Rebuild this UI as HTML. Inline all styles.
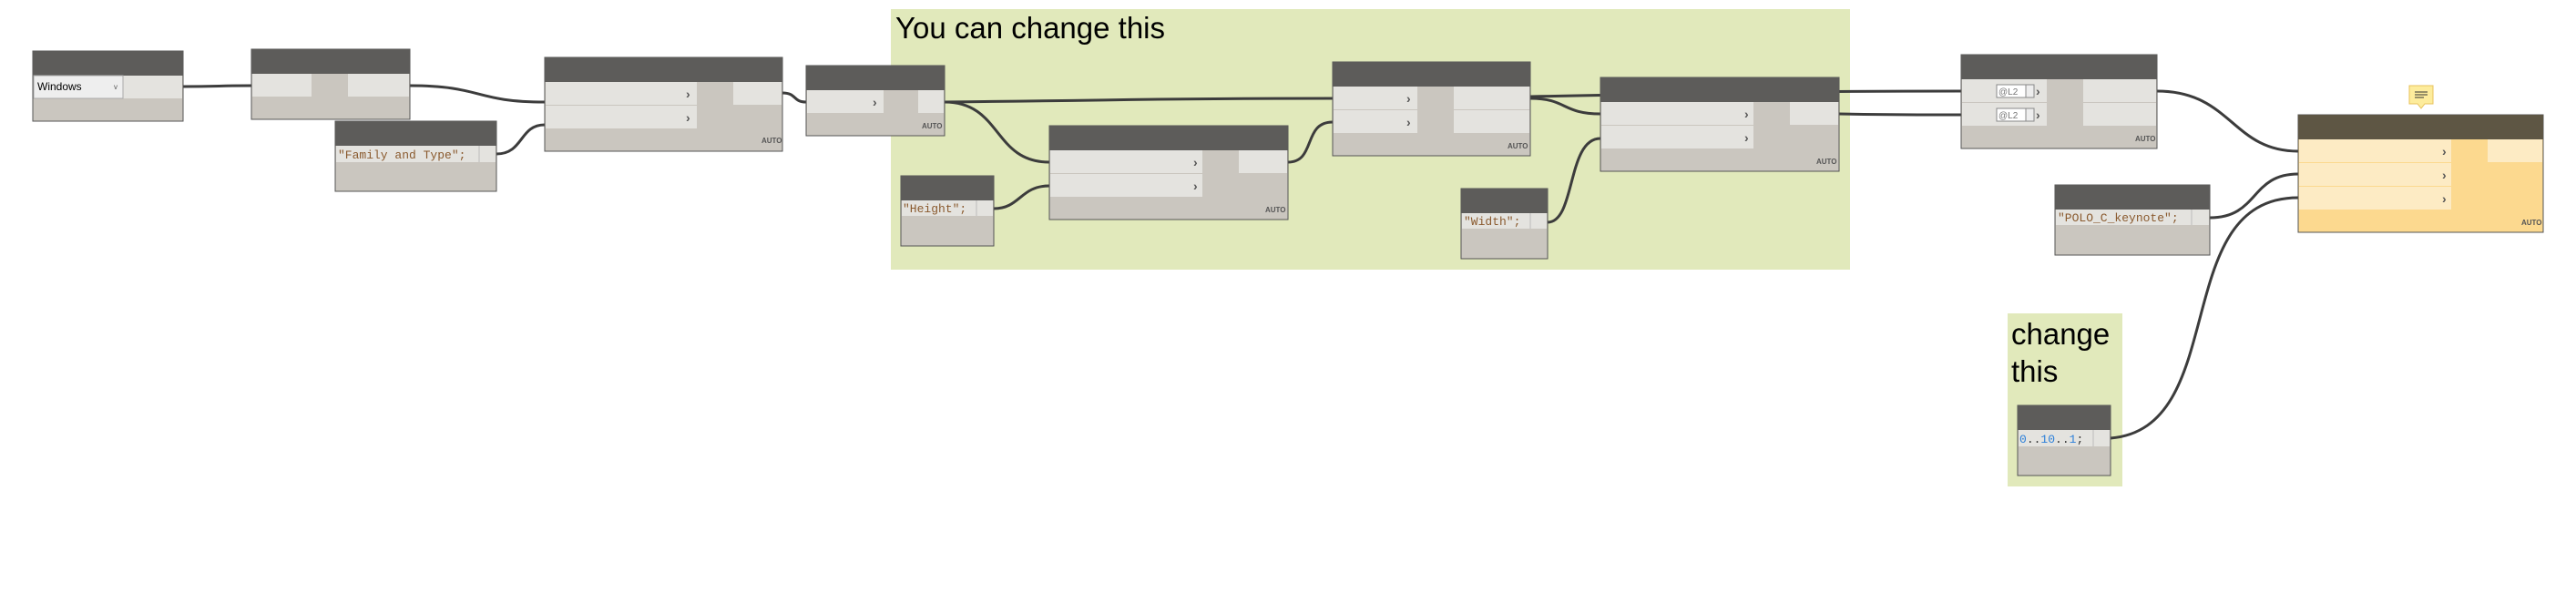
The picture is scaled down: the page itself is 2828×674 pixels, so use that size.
<!DOCTYPE html>
<html><head><meta charset="utf-8"><style>
html,body{margin:0;padding:0;background:#fff;}
svg{display:block;}
text{font-family:"Liberation Sans",sans-serif;}
.m{font-family:"Liberation Mono",monospace;font-size:13px;fill:#8a5a2e;}
.auto{font-size:8px;font-weight:bold;fill:#555;}
.ch{font-size:14px;fill:#555;font-weight:bold;}
</style></head><body>
<svg width="2828" height="674" viewBox="0 0 2828 674" xmlns="http://www.w3.org/2000/svg">
<!-- groups -->
<rect x="978" y="10" width="1053" height="286" fill="#e1e9bb"/>
<text x="983" y="42" font-size="33" fill="#000">You can change this</text>
<rect x="2204" y="344" width="126" height="190" fill="#e1e9bb"/>
<text x="2208" y="378" font-size="33" fill="#000">change</text>
<text x="2208" y="419" font-size="33" fill="#000">this</text>

<!-- wires -->
<g fill="none" stroke="#3c3c3c" stroke-width="3">
<path d="M201,95 C240,95 240,94 276,94"/>
<path d="M450,94 C530,94 520,112 598,112"/>
<path d="M545,169 C575,169 570,137 598,137"/>
<path d="M859,102 C875,102 870,112 885,112"/>
<path d="M1037,112 C1250,110 1250,108 1463,108"/>
<path d="M1037,112 C1100,112 1090,178 1152,178"/>
<path d="M1091,229 C1120,229 1120,204 1152,204"/>
<path d="M1414,178 C1445,178 1430,134 1463,134"/>
<path d="M1680,108 C1720,108 1715,125 1757,125"/>
<path d="M1680,106 C1900,102 1950,100 2153,100"/>
<path d="M1699,244 C1730,244 1720,152 1757,152"/>
<path d="M2019,125 C2080,126 2100,126 2153,126"/>
<path d="M2368,100 C2450,100 2450,166 2523,166"/>
<path d="M2426,239 C2480,239 2470,191 2523,191"/>
<path d="M2317,481 C2450,470 2380,217 2523,217"/>
</g>

<!-- Node A Windows -->
<rect x="36" y="56" width="165" height="77" fill="#cac6bf" stroke="#555" stroke-width="1"/>
<rect x="36" y="56" width="165" height="27" fill="#5d5c5a"/>
<rect x="37" y="83" width="163" height="25" fill="#e4e3df"/>
<rect x="37" y="83" width="98" height="25" fill="#eeeeee" stroke="#aaa"/>
<text x="41" y="99" font-size="12" fill="#000">Windows</text>
<text x="125" y="98" font-size="8" fill="#555">v</text>

<!-- Node B -->
<rect x="276" y="54" width="174" height="77" fill="#cac6bf" stroke="#555"/>
<rect x="276" y="54" width="174" height="27" fill="#5d5c5a"/>
<rect x="277" y="81" width="65" height="25" fill="#e4e3df"/>
<rect x="382" y="81" width="67" height="25" fill="#e4e3df"/>

<!-- Node C Family and Type -->
<rect x="368" y="133" width="177" height="77" fill="#cac6bf" stroke="#555"/>
<rect x="368" y="133" width="177" height="27" fill="#5d5c5a"/>
<rect x="369" y="160" width="175" height="18" fill="#e4e3df"/>
<line x1="526" y1="160" x2="526" y2="178" stroke="#bbb"/>
<text x="371" y="174" class="m">"Family and Type";</text>

<!-- Node D -->
<rect x="598" y="63" width="261" height="103" fill="#cac6bf" stroke="#555"/>
<rect x="598" y="63" width="261" height="27" fill="#5d5c5a"/>
<rect x="599" y="90" width="166" height="25" fill="#e4e3df"/>
<rect x="599" y="116" width="166" height="25" fill="#e4e3df"/>
<rect x="805" y="90" width="53" height="25" fill="#e4e3df"/>
<text x="753" y="108" class="ch">›</text><text x="753" y="134" class="ch">›</text>
<text x="836" y="157" class="auto">AUTO</text>

<!-- Node E -->
<rect x="885" y="72" width="152" height="77" fill="#cac6bf" stroke="#555"/>
<rect x="885" y="72" width="152" height="27" fill="#5d5c5a"/>
<rect x="886" y="99" width="84" height="25" fill="#e4e3df"/>
<rect x="1008" y="99" width="28" height="25" fill="#e4e3df"/>
<text x="958" y="117" class="ch">›</text>
<text x="1012" y="141" class="auto">AUTO</text>

<!-- Node F -->
<rect x="1152" y="138" width="262" height="103" fill="#cac6bf" stroke="#555"/>
<rect x="1152" y="138" width="262" height="27" fill="#5d5c5a"/>
<rect x="1153" y="165" width="167" height="25" fill="#e4e3df"/>
<rect x="1153" y="191" width="167" height="25" fill="#e4e3df"/>
<rect x="1360" y="165" width="53" height="25" fill="#e4e3df"/>
<text x="1310" y="183" class="ch">›</text><text x="1310" y="209" class="ch">›</text>
<text x="1389" y="233" class="auto">AUTO</text>

<!-- Node Height -->
<rect x="989" y="193" width="102" height="77" fill="#cac6bf" stroke="#555"/>
<rect x="989" y="193" width="102" height="27" fill="#5d5c5a"/>
<rect x="990" y="220" width="100" height="17" fill="#e4e3df"/>
<line x1="1072" y1="220" x2="1072" y2="237" stroke="#bbb"/>
<text x="991" y="233" class="m">"Height";</text>

<!-- Node G -->
<rect x="1463" y="68" width="217" height="103" fill="#cac6bf" stroke="#555"/>
<rect x="1463" y="68" width="217" height="27" fill="#5d5c5a"/>
<rect x="1464" y="95" width="92" height="25" fill="#e4e3df"/>
<rect x="1464" y="121" width="92" height="25" fill="#e4e3df"/>
<rect x="1596" y="95" width="83" height="25" fill="#e4e3df"/>
<rect x="1596" y="121" width="83" height="25" fill="#e4e3df"/>
<text x="1544" y="113" class="ch">›</text><text x="1544" y="139" class="ch">›</text>
<text x="1655" y="163" class="auto">AUTO</text>

<!-- Node Width -->
<rect x="1604" y="207" width="95" height="77" fill="#cac6bf" stroke="#555"/>
<rect x="1604" y="207" width="95" height="27" fill="#5d5c5a"/>
<rect x="1605" y="234" width="93" height="17" fill="#e4e3df"/>
<line x1="1680" y1="234" x2="1680" y2="251" stroke="#bbb"/>
<text x="1607" y="247" class="m">"Width";</text>

<!-- Node H -->
<rect x="1757" y="85" width="262" height="103" fill="#cac6bf" stroke="#555"/>
<rect x="1757" y="85" width="262" height="27" fill="#5d5c5a"/>
<rect x="1758" y="112" width="167" height="25" fill="#e4e3df"/>
<rect x="1758" y="138" width="167" height="25" fill="#e4e3df"/>
<rect x="1965" y="112" width="53" height="25" fill="#e4e3df"/>
<text x="1915" y="130" class="ch">›</text><text x="1915" y="156" class="ch">›</text>
<text x="1994" y="180" class="auto">AUTO</text>

<!-- Node I -->
<rect x="2153" y="60" width="215" height="103" fill="#cac6bf" stroke="#555"/>
<rect x="2153" y="60" width="215" height="27" fill="#5d5c5a"/>
<rect x="2154" y="87" width="93" height="25" fill="#e4e3df"/>
<rect x="2154" y="113" width="93" height="25" fill="#e4e3df"/>
<rect x="2287" y="87" width="80" height="25" fill="#e4e3df"/>
<rect x="2287" y="113" width="80" height="25" fill="#e4e3df"/>
<rect x="2192" y="93" width="32" height="14" fill="#fff" stroke="#888"/><rect x="2224" y="93" width="9" height="14" fill="#eee" stroke="#888"/>
<rect x="2192" y="119" width="32" height="14" fill="#fff" stroke="#888"/><rect x="2224" y="119" width="9" height="14" fill="#eee" stroke="#888"/>
<text x="2194" y="104" font-size="10" fill="#777">@L2</text><text x="2194" y="130" font-size="10" fill="#777">@L2</text>
<text x="2235" y="105" class="ch">›</text><text x="2235" y="131" class="ch">›</text>
<text x="2344" y="155" class="auto">AUTO</text>

<!-- Node K POLO -->
<rect x="2256" y="203" width="170" height="77" fill="#cac6bf" stroke="#555"/>
<rect x="2256" y="203" width="170" height="27" fill="#5d5c5a"/>
<rect x="2257" y="230" width="168" height="17" fill="#e4e3df"/>
<line x1="2406" y1="230" x2="2406" y2="247" stroke="#bbb"/>
<text x="2259" y="243" class="m">"POLO_C_keynote";</text>

<!-- Node L range -->
<rect x="2215" y="445" width="102" height="77" fill="#cac6bf" stroke="#555"/>
<rect x="2215" y="445" width="102" height="27" fill="#5d5c5a"/>
<rect x="2216" y="472" width="100" height="18" fill="#e4e3df"/>
<line x1="2298" y1="472" x2="2298" y2="490" stroke="#bbb"/>
<text x="2217" y="486" class="m" style="fill:#2b7fd9">0<tspan fill="#333">..</tspan>10<tspan fill="#333">..</tspan>1<tspan fill="#333">;</tspan></text>

<!-- Node J yellow -->
<rect x="2523" y="126" width="269" height="129" fill="#fcd98f" stroke="#555"/>
<rect x="2523" y="126" width="269" height="27" fill="#5e5644"/>
<rect x="2524" y="153" width="167" height="25" fill="#fdebc4"/>
<rect x="2524" y="179" width="167" height="25" fill="#fdebc4"/>
<rect x="2524" y="205" width="167" height="25" fill="#fdebc4"/>
<rect x="2731" y="153" width="60" height="25" fill="#fdebc4"/>
<text x="2681" y="171" class="ch">›</text><text x="2681" y="197" class="ch">›</text><text x="2681" y="223" class="ch">›</text>
<text x="2768" y="247" class="auto">AUTO</text>
<!-- note icon -->
<path d="M2645,94 h26 v20 h-9 l-4,5 l-4,-5 h-9 z" fill="#fdec9c" stroke="#e8c25c"/>
<line x1="2651" y1="101" x2="2665" y2="101" stroke="#333"/><line x1="2651" y1="104" x2="2665" y2="104" stroke="#333"/><line x1="2651" y1="107" x2="2661" y2="107" stroke="#333"/>
</svg>
</body></html>
